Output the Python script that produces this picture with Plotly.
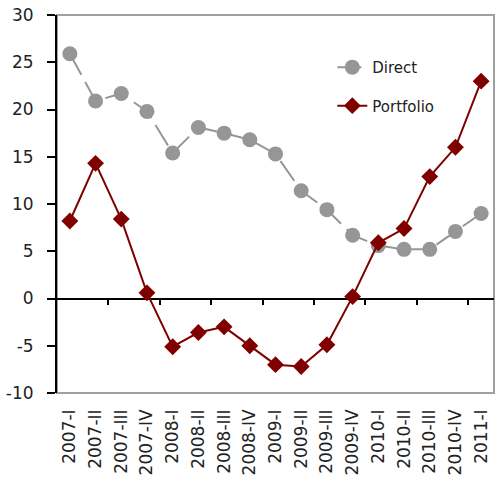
import plotly.graph_objects as go

quarters = ["2007-I", "2007-II", "2007-III", "2007-IV",
            "2008-I", "2008-II", "2008-III", "2008-IV",
            "2009-I", "2009-II", "2009-III", "2009-IV",
            "2010-I", "2010-II", "2010-III", "2010-IV",
            "2011-I"]
direct = [25.9, 20.9, 21.7, 19.8, 15.4, 18.1, 17.5, 16.8, 15.3, 11.4,
          9.4, 6.7, 5.6, 5.2, 5.2, 7.1, 9.0]
portfolio = [8.2, 14.3, 8.4, 0.6, -5.1, -3.6, -3.0, -5.0, -7.0, -7.2,
             -4.9, 0.2, 5.9, 7.4, 12.9, 16.0, 23.0]
y_ticks = [-10, -5, 0, 5, 10, 15, 20, 25, 30]

idx = list(range(len(quarters)))
# every second category boundary carries a tick on the zero line
boundary_ticks = [i + 0.5 for i in idx[1:-1:2]]

fig = go.Figure()
fig.add_trace(go.Scatter(
    x=idx, y=direct, name="Direct", mode="lines+markers",
    line=dict(color="#969696", width=2, dash="24px,8px"),
    marker=dict(symbol="circle", size=15, color="#969696"),
    legendgroup="a",
))
fig.add_trace(go.Scatter(
    x=idx, y=portfolio, name="Portfolio", mode="lines+markers",
    line=dict(color="#800000", width=2),
    marker=dict(symbol="diamond", size=13, color="#800000"),
    legendgroup="b", xaxis="x2",
))

fig.update_layout(
    width=495, height=477,
    margin=dict(l=57, r=1, t=15, b=84),
    plot_bgcolor="white", paper_bgcolor="white",
    font=dict(family="DejaVu Sans", color="#222222"),
    showlegend=True,
    legend=dict(
        x=0.63, y=0.905, xanchor="left", yanchor="top",
        font=dict(size=15, color="#222222"),
        traceorder="grouped", tracegroupgap=16,
        bgcolor="rgba(0,0,0,0)", itemwidth=30,
    ),
    xaxis=dict(
        range=[-0.5, len(quarters) - 0.5],
        tickvals=idx, ticktext=quarters, tickangle=-90,
        tickfont=dict(size=17, color="#222222"),
        showgrid=False, zeroline=False, showline=False, ticks="",
        ticklabelstandoff=12,
    ),
    xaxis2=dict(
        overlaying="x", anchor="free", position=0.25,
        range=[-0.5, len(quarters) - 0.5],
        tickvals=boundary_ticks, ticks="outside", ticklen=5,
        tickwidth=2, tickcolor="black",
        showticklabels=False, showgrid=False, zeroline=False, showline=False,
    ),
    yaxis=dict(
        range=[-10, 30], tickvals=y_ticks, ticktext=[str(v) for v in y_ticks],
        tickfont=dict(size=17, color="#222222"),
        showgrid=False, zeroline=True, zerolinecolor="black", zerolinewidth=2,
        showline=True, linecolor="black", linewidth=2,
        ticks="outside", ticklen=8, tickwidth=2, tickcolor="black",
        ticklabelstandoff=10,
    ),
    shapes=[dict(type="rect", xref="paper", yref="paper", x0=0, x1=1, y0=0, y1=1,
                 line=dict(color="#a0a0a0", width=2), layer="below")],
)

fig.write_html("out.html")
